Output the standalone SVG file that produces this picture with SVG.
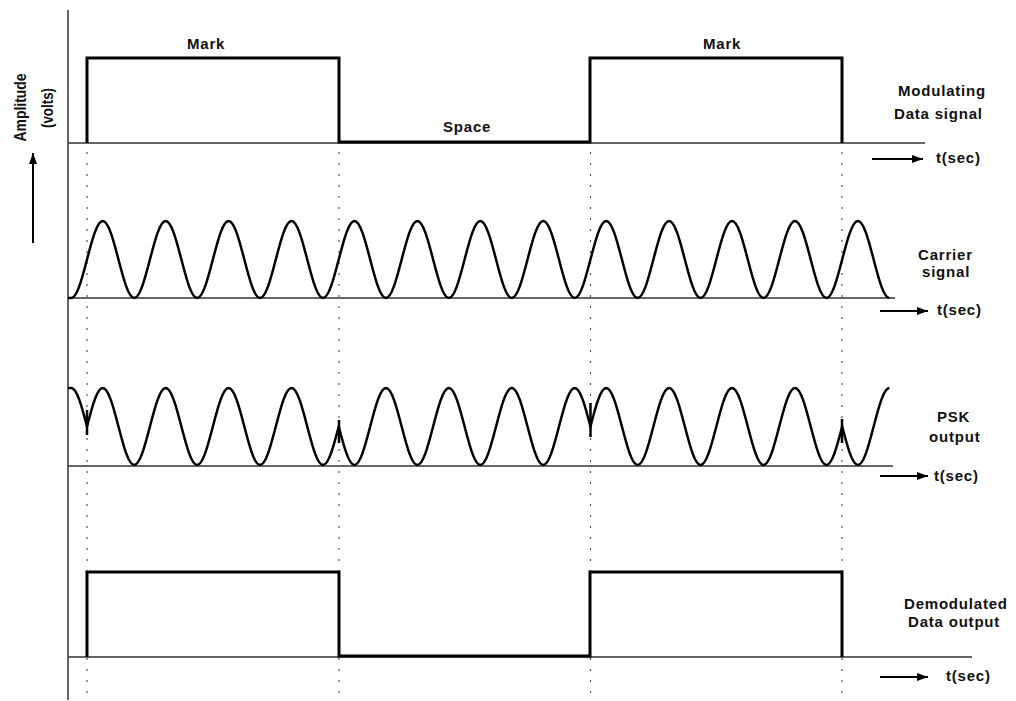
<svg xmlns="http://www.w3.org/2000/svg" width="1016" height="701" viewBox="0 0 1016 701">
<style>
text{font-family:"Liberation Sans",Arial,sans-serif;font-weight:bold;font-size:15px;fill:#111;letter-spacing:0.8px}
text.vert{font-size:16px;letter-spacing:0}
.base{stroke:#333;stroke-width:1.5;fill:none}
.sig{stroke:#000;stroke-width:3;fill:none}
.wave{stroke:#000;stroke-width:2.5;fill:none;stroke-linejoin:round}
.dot{stroke:#555;stroke-width:1.2;stroke-dasharray:2 9;fill:none}
.arr{stroke:#000;stroke-width:2;fill:none}
</style>
<defs>
<marker id="ah" viewBox="0 0 11 8" refX="11" refY="4" markerWidth="11" markerHeight="8" markerUnits="userSpaceOnUse" orient="auto">
<path d="M0,0 L11,4 L0,8 Z" fill="#000"/>
</marker>
</defs>
<rect width="1016" height="701" fill="#fff"/>

<g id="axis">
<line class="base" x1="68" y1="10" x2="68" y2="700"/>
<text class="vert" transform="translate(26,107.5) rotate(-90)" text-anchor="middle" textLength="68" lengthAdjust="spacingAndGlyphs">Amplitude</text>
<text class="vert" transform="translate(53,108) rotate(-90)" text-anchor="middle" textLength="40" lengthAdjust="spacingAndGlyphs">(volts)</text>
<line class="arr" x1="33" y1="243" x2="33" y2="153" marker-end="url(#ah)"/>
</g>

<g id="guides">
<line class="dot" x1="87" y1="152" x2="87" y2="700"/>
<line class="dot" x1="339" y1="152" x2="339" y2="700"/>
<line class="dot" x1="590.5" y1="152" x2="590.5" y2="700"/>
<line class="dot" x1="842" y1="152" x2="842" y2="700"/>
</g>

<g id="modulating">
<line class="base" x1="68" y1="143" x2="925" y2="143"/>
<path class="sig" d="M87,143 V58 H339 V142 H590 V58 H842 V143"/>
<text x="187" y="49">Mark</text>
<text x="703" y="49">Mark</text>
<text x="443" y="132">Space</text>
<text x="898" y="96">Modulating</text>
<text x="894" y="119">Data signal</text>
<line class="arr" x1="872" y1="159" x2="923" y2="159" marker-end="url(#ah)"/>
<text x="936" y="163">t(sec)</text>
</g>

<g id="carrier">
<line class="base" x1="68" y1="298" x2="895" y2="298"/>
<path class="wave" d="M68,298 L71.267,298
c 5.694,0 10.602,-18.78 15.733,-38.5 c 5.131,-19.72 10.039,-38.5 15.733,-38.5 c 5.694,0 10.602,18.78 15.733,38.5 c 5.131,19.72 10.039,38.5 15.733,38.5
c 5.694,0 10.602,-18.78 15.733,-38.5 c 5.131,-19.72 10.039,-38.5 15.733,-38.5 c 5.694,0 10.602,18.78 15.733,38.5 c 5.131,19.72 10.039,38.5 15.733,38.5
c 5.694,0 10.602,-18.78 15.733,-38.5 c 5.131,-19.72 10.039,-38.5 15.733,-38.5 c 5.694,0 10.602,18.78 15.733,38.5 c 5.131,19.72 10.039,38.5 15.733,38.5
c 5.694,0 10.602,-18.78 15.733,-38.5 c 5.131,-19.72 10.039,-38.5 15.733,-38.5 c 5.694,0 10.602,18.78 15.733,38.5 c 5.131,19.72 10.039,38.5 15.733,38.5
c 5.694,0 10.602,-18.78 15.733,-38.5 c 5.131,-19.72 10.039,-38.5 15.733,-38.5 c 5.694,0 10.602,18.78 15.733,38.5 c 5.131,19.72 10.039,38.5 15.733,38.5
c 5.694,0 10.602,-18.78 15.733,-38.5 c 5.131,-19.72 10.039,-38.5 15.733,-38.5 c 5.694,0 10.602,18.78 15.733,38.5 c 5.131,19.72 10.039,38.5 15.733,38.5
c 5.694,0 10.602,-18.78 15.733,-38.5 c 5.131,-19.72 10.039,-38.5 15.733,-38.5 c 5.694,0 10.602,18.78 15.733,38.5 c 5.131,19.72 10.039,38.5 15.733,38.5
c 5.694,0 10.602,-18.78 15.733,-38.5 c 5.131,-19.72 10.039,-38.5 15.733,-38.5 c 5.694,0 10.602,18.78 15.733,38.5 c 5.131,19.72 10.039,38.5 15.733,38.5
c 5.694,0 10.602,-18.78 15.733,-38.5 c 5.131,-19.72 10.039,-38.5 15.733,-38.5 c 5.694,0 10.602,18.78 15.733,38.5 c 5.131,19.72 10.039,38.5 15.733,38.5
c 5.694,0 10.602,-18.78 15.733,-38.5 c 5.131,-19.72 10.039,-38.5 15.733,-38.5 c 5.694,0 10.602,18.78 15.733,38.5 c 5.131,19.72 10.039,38.5 15.733,38.5
c 5.694,0 10.602,-18.78 15.733,-38.5 c 5.131,-19.72 10.039,-38.5 15.733,-38.5 c 5.694,0 10.602,18.78 15.733,38.5 c 5.131,19.72 10.039,38.5 15.733,38.5
c 5.694,0 10.602,-18.78 15.733,-38.5 c 5.131,-19.72 10.039,-38.5 15.733,-38.5 c 5.694,0 10.602,18.78 15.733,38.5 c 5.131,19.72 10.039,38.5 15.733,38.5
c 5.694,0 10.602,-18.78 15.733,-38.5 c 5.131,-19.72 10.039,-38.5 15.733,-38.5 c 5.694,0 10.602,18.78 15.733,38.5 c 5.131,19.72 10.039,38.5 15.733,38.5"/>
<text x="918" y="260">Carrier</text>
<text x="922" y="277">signal</text>
<line class="arr" x1="880" y1="311" x2="928" y2="311" marker-end="url(#ah)"/>
<text x="937" y="315">t(sec)</text>
</g>

<g id="psk">
<line class="base" x1="68" y1="466" x2="893" y2="466"/>
<path class="wave" d="M68,388 L71.267,388
c 5.694,0 10.602,18.78 15.733,38.5
c 5.131,-19.72 10.039,-38.5 15.733,-38.5 c 5.694,0 10.602,18.78 15.733,38.5 c 5.131,19.72 10.039,38.5 15.733,38.5 c 5.694,0 10.602,-18.78 15.733,-38.5
c 5.131,-19.72 10.039,-38.5 15.733,-38.5 c 5.694,0 10.602,18.78 15.733,38.5 c 5.131,19.72 10.039,38.5 15.733,38.5 c 5.694,0 10.602,-18.78 15.733,-38.5
c 5.131,-19.72 10.039,-38.5 15.733,-38.5 c 5.694,0 10.602,18.78 15.733,38.5 c 5.131,19.72 10.039,38.5 15.733,38.5 c 5.694,0 10.602,-18.78 15.733,-38.5
c 5.131,-19.72 10.039,-38.5 15.733,-38.5 c 5.694,0 10.602,18.78 15.733,38.5 c 5.131,19.72 10.039,38.5 15.733,38.5 c 5.694,0 10.602,-18.78 15.733,-38.5
c 5.131,19.72 10.039,38.5 15.733,38.5 c 5.694,0 10.602,-18.78 15.733,-38.5 c 5.131,-19.72 10.039,-38.5 15.733,-38.5 c 5.694,0 10.602,18.78 15.733,38.5
c 5.131,19.72 10.039,38.5 15.733,38.5 c 5.694,0 10.602,-18.78 15.733,-38.5 c 5.131,-19.72 10.039,-38.5 15.733,-38.5 c 5.694,0 10.602,18.78 15.733,38.5
c 5.131,19.72 10.039,38.5 15.733,38.5 c 5.694,0 10.602,-18.78 15.733,-38.5 c 5.131,-19.72 10.039,-38.5 15.733,-38.5 c 5.694,0 10.602,18.78 15.733,38.5
c 5.131,19.72 10.039,38.5 15.733,38.5 c 5.694,0 10.602,-18.78 15.733,-38.5 c 5.131,-19.72 10.039,-38.5 15.733,-38.5 c 5.694,0 10.602,18.78 15.733,38.5
c 5.131,-19.72 10.039,-38.5 15.733,-38.5 c 5.694,0 10.602,18.78 15.733,38.5 c 5.131,19.72 10.039,38.5 15.733,38.5 c 5.694,0 10.602,-18.78 15.733,-38.5
c 5.131,-19.72 10.039,-38.5 15.733,-38.5 c 5.694,0 10.602,18.78 15.733,38.5 c 5.131,19.72 10.039,38.5 15.733,38.5 c 5.694,0 10.602,-18.78 15.733,-38.5
c 5.131,-19.72 10.039,-38.5 15.733,-38.5 c 5.694,0 10.602,18.78 15.733,38.5 c 5.131,19.72 10.039,38.5 15.733,38.5 c 5.694,0 10.602,-18.78 15.733,-38.5
c 5.131,-19.72 10.039,-38.5 15.733,-38.5 c 5.694,0 10.602,18.78 15.733,38.5 c 5.131,19.72 10.039,38.5 15.733,38.5 c 5.694,0 10.602,-18.78 15.733,-38.5
c 5.131,19.72 10.039,38.5 15.733,38.5 c 5.694,0 10.602,-18.78 15.733,-38.5 c 5.131,-19.72 10.039,-38.5 15.733,-38.5"/>
<path class="wave" d="M87,410 V435 M339,420 V443 M590.5,403 V437 M842,419 V443"/>
<text x="937" y="422">PSK</text>
<text x="929" y="442">output</text>
<line class="arr" x1="880" y1="476" x2="928" y2="476" marker-end="url(#ah)"/>
<text x="934" y="481">t(sec)</text>
</g>

<g id="demodulated">
<line class="base" x1="68" y1="657" x2="972" y2="657"/>
<path class="sig" d="M87,657 V572 H339 V656 H590 V572 H842 V657"/>
<text x="904" y="609">Demodulated</text>
<text x="908" y="627">Data output</text>
<line class="arr" x1="880" y1="677" x2="928" y2="677" marker-end="url(#ah)"/>
<text x="946" y="681">t(sec)</text>
</g>
</svg>
